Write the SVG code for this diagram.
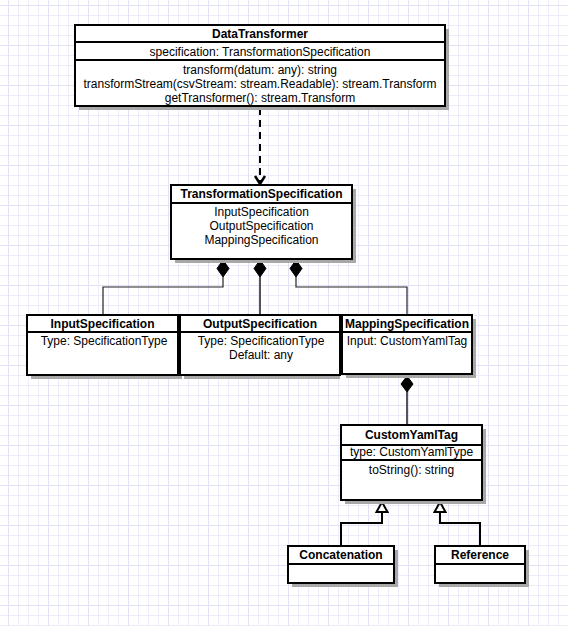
<svg xmlns="http://www.w3.org/2000/svg" width="568" height="626" viewBox="0 0 568 626">
<style>
.box{fill:#fff;stroke:#000;stroke-width:2}
.sh{fill:#a8a8a8}
.sep{stroke:#000;stroke-width:2}
text{font-family:"Liberation Sans",Arial,sans-serif;font-size:12px;fill:#000;text-anchor:middle}
.t{font-weight:bold}
.con{fill:none;stroke:#222;stroke-width:1.2}
.con2{fill:none;stroke:#555;stroke-width:2}
.dash{fill:none;stroke:#000;stroke-width:2;stroke-dasharray:7,5}
.inh{fill:none;stroke:#000;stroke-width:2}
.dia{fill:#000;stroke:#000;stroke-width:1}
.tri{fill:#fff;stroke:#000;stroke-width:2}
</style>
<defs>
<pattern id="g" width="10" height="10" patternUnits="userSpaceOnUse" x="8" y="5">
<path d="M0 0.5H10M0.5 0V10" stroke="#ececfa" stroke-width="1" fill="none"/>
</pattern>
<pattern id="G" width="40" height="40" patternUnits="userSpaceOnUse" x="8" y="5">
<path d="M0 0.5H40M0.5 0V40" stroke="#e2e2f6" stroke-width="1" fill="none"/>
</pattern>
</defs>
<rect width="568" height="626" fill="#fff"/>
<rect width="568" height="626" fill="url(#g)"/>
<rect width="568" height="626" fill="url(#G)"/>

<g id="connectors">
<path class="dash" d="M260,108V183"/>
<polyline points="255,176 260,184 265,176" fill="none" stroke="#000" stroke-width="2.5"/>
<path class="con" d="M223,277V287H103V315"/>
<path class="con2" d="M260,277V315"/>
<path class="con" d="M296,277V287H407V315"/>
<polygon class="dia" points="223,260 229,268.5 223,277 217,268.5"/>
<polygon class="dia" points="260,260 266,268.5 260,277 254,268.5"/>
<polygon class="dia" points="296,260 302,268.5 296,277 290,268.5"/>
<path class="con2" d="M407,392V425"/>
<polygon class="dia" points="407,376 413,384 407,392 401,384"/>
<path class="inh" d="M382,512V523H341V546"/>
<path class="inh" d="M440,512V523H480V546"/>
<polygon class="tri" points="382,502 387.5,512 376.5,512"/>
<polygon class="tri" points="440,502 445.5,512 434.5,512"/>
</g>

<g id="DataTransformer">
<rect class="sh" x="79" y="29" width="370" height="81"/>
<rect class="box" x="75" y="25" width="370" height="81"/>
<path class="sep" d="M75,42H445M75,60H445"/>
<text class="t" x="260" y="38">DataTransformer</text>
<text x="260" y="56">specification: TransformationSpecification</text>
<text x="260" y="74">transform(datum: any): string</text>
<text x="260" y="88">transformStream(csvStream: stream.Readable): stream.Transform</text>
<text x="260" y="102">getTransformer(): stream.Transform</text>
</g>

<g id="TransformationSpecification">
<rect class="sh" x="175" y="189" width="181" height="74"/>
<rect class="box" x="171" y="185" width="181" height="74"/>
<path class="sep" d="M171,203H352"/>
<text class="t" x="261.5" y="198">TransformationSpecification</text>
<text x="261.5" y="216">InputSpecification</text>
<text x="261.5" y="230">OutputSpecification</text>
<text x="261.5" y="244">MappingSpecification</text>
</g>

<g id="InputSpecification">
<rect class="sh" x="31" y="319" width="151" height="60"/>
<rect class="box" x="27" y="315" width="151" height="60"/>
<path class="sep" d="M27,332H178"/>
<text class="t" x="102.5" y="328">InputSpecification</text>
<text x="104" y="345">Type: SpecificationType</text>
</g>

<g id="OutputSpecification">
<rect class="sh" x="184" y="319" width="156" height="60"/>
<rect class="box" x="180" y="315" width="160" height="60"/>
<path class="sep" d="M180,332H340"/>
<text class="t" x="260" y="328">OutputSpecification</text>
<text x="261" y="345">Type: SpecificationType</text>
<text x="261" y="359">Default: any</text>
</g>

<g id="MappingSpecification">
<rect class="sh" x="346" y="319" width="130" height="59"/>
<rect class="box" x="342" y="315" width="130" height="59"/>
<path class="sep" d="M342,332H472"/>
<text class="t" x="407" y="328">MappingSpecification</text>
<text x="407" y="345">Input: CustomYamlTag</text>
</g>

<g id="CustomYamlTag">
<rect class="sh" x="345" y="429" width="141" height="75"/>
<rect class="box" x="341" y="425" width="141" height="75"/>
<path class="sep" d="M341,445H482M341,460H482"/>
<text class="t" x="411.5" y="439">CustomYamlTag</text>
<text x="411.5" y="456">type: CustomYamlType</text>
<text x="411.5" y="474">toString(): string</text>
</g>

<g id="Concatenation">
<rect class="sh" x="292" y="550" width="106" height="37"/>
<rect class="box" x="288" y="546" width="106" height="37"/>
<path class="sep" d="M288,564H394"/>
<text class="t" x="341" y="559">Concatenation</text>
</g>

<g id="Reference">
<rect class="sh" x="439" y="550" width="90" height="37"/>
<rect class="box" x="435" y="546" width="90" height="37"/>
<path class="sep" d="M435,564H525"/>
<text class="t" x="480" y="559">Reference</text>
</g>
</svg>
